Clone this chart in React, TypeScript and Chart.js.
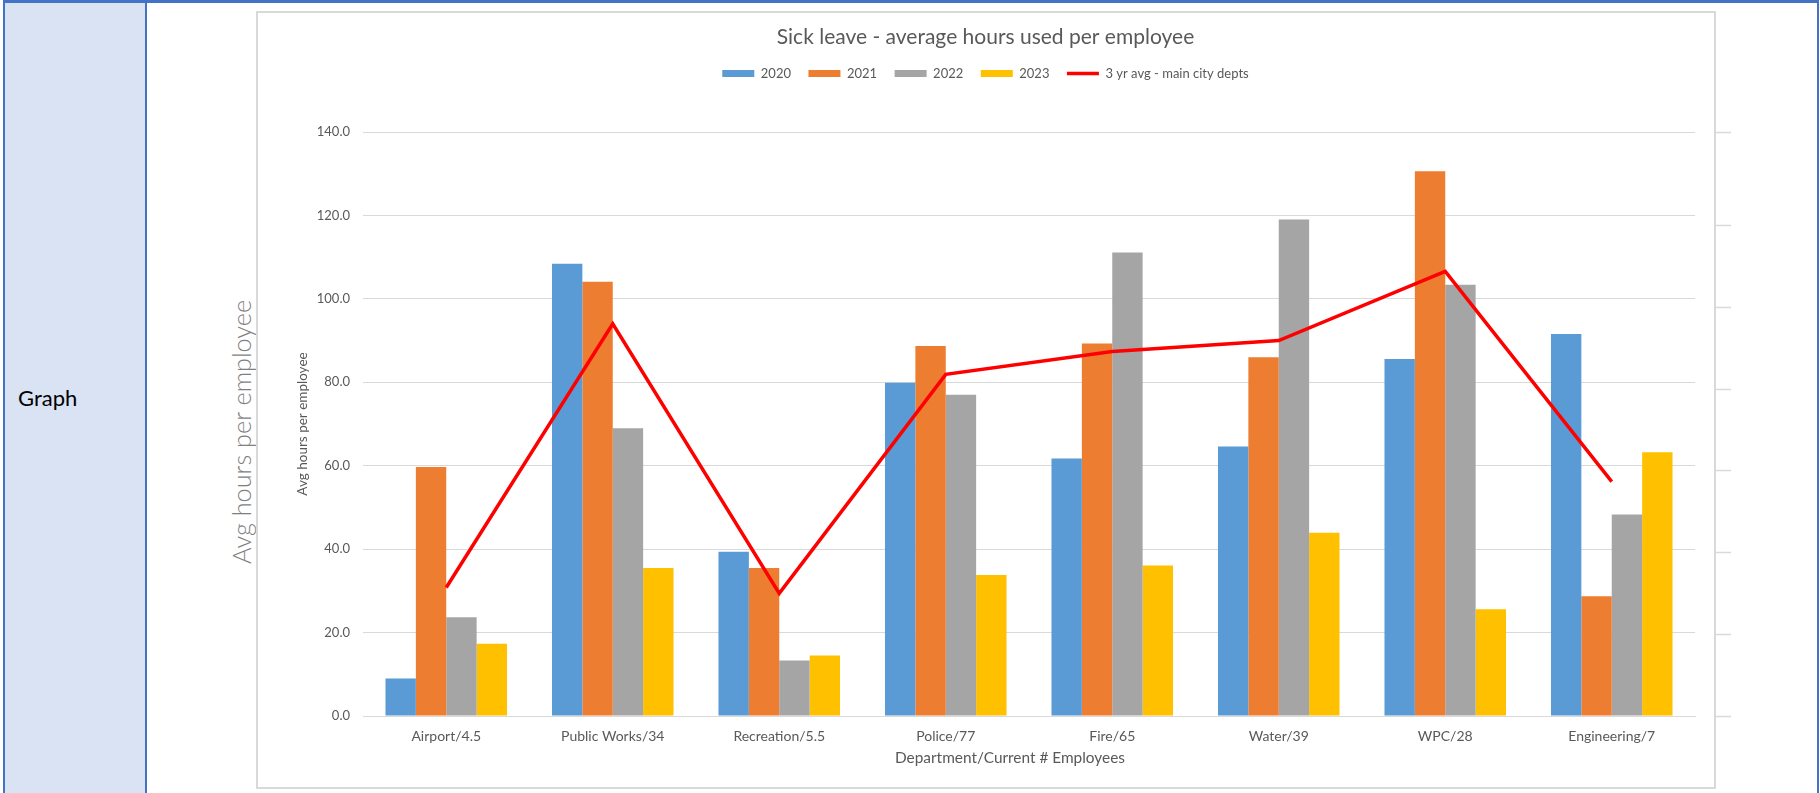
import React, { useEffect, useRef } from 'react';
import { Chart, registerables } from 'chart.js';

Chart.register(...registerables);

const categories = [
  'Airport/4.5',
  'Public Works/34',
  'Recreation/5.5',
  'Police/77',
  'Fire/65',
  'Water/39',
  'WPC/28',
  'Engineering/7',
];
const hours2020 = [9.0, 108.4, 39.4, 79.9, 61.7, 64.6, 85.6, 91.6];
const hours2021 = [59.7, 104.1, 35.5, 88.7, 89.3, 86.0, 130.6, 28.7];
const hours2022 = [23.7, 69.0, 13.3, 77.0, 111.1, 119.0, 103.4, 48.3];
const hours2023 = [17.3, 35.5, 14.5, 33.8, 36.1, 43.9, 25.6, 63.2];
const threeYearAvg = [30.8, 94.0, 29.4, 81.9, 87.4, 90.0, 106.6, 56.2];

const seriesLabels = ['2020', '2021', '2022', '2023', '3 yr avg - main city depts'];
const yMin = 0;
const yMax = 140;
const yStep = 20;
const y2Max = 142.7;

const FONT = 'Lato, "Open Sans", sans-serif';
const TEXT = '#595959';
const GRID = '#D9D9D9';
const BLUE_BORDER = '#4472C4';

const rightTicks = {
  id: 'rightTicks',
  afterDraw(chart: any) {
    const s = chart.scales.y2;
    if (!s) return;
    const ctx = chart.ctx;
    const x0 = chart.chartArea.right + 21;
    ctx.save();
    ctx.strokeStyle = GRID;
    ctx.lineWidth = 1.5;
    s.ticks.forEach((t: any) => {
      const py = Math.round(s.getPixelForValue(t.value)) + 0.5;
      ctx.beginPath();
      ctx.moveTo(x0, py);
      ctx.lineTo(x0 + 15, py);
      ctx.stroke();
    });
    ctx.restore();
  },
};

export default function App() {
  const ref = useRef<HTMLCanvasElement | null>(null);

  useEffect(() => {
    document.body.style.margin = '0';
    if (!ref.current) return;
    const chart = new Chart(ref.current, {
      data: {
        labels: categories,
        datasets: [
          { type: 'bar', label: seriesLabels[0], data: hours2020, backgroundColor: '#5B9BD5', order: 1 },
          { type: 'bar', label: seriesLabels[1], data: hours2021, backgroundColor: '#ED7D31', order: 1 },
          { type: 'bar', label: seriesLabels[2], data: hours2022, backgroundColor: '#A5A5A5', order: 1 },
          { type: 'bar', label: seriesLabels[3], data: hours2023, backgroundColor: '#FFC000', order: 1 },
          {
            type: 'line',
            label: seriesLabels[4],
            data: threeYearAvg,
            borderColor: '#FF0000',
            backgroundColor: '#FF0000',
            borderWidth: 3.5,
            pointRadius: 0,
            tension: 0,
            fill: false,
            order: 0,
          },
        ],
      } as any,
      options: {
        responsive: false,
        animation: false,
        devicePixelRatio: 1,
        datasets: {
          bar: { categoryPercentage: 0.73, barPercentage: 1.0 },
        },
        layout: { padding: { left: 25, right: 25, top: 0, bottom: 0 } },
        plugins: {
          title: {
            display: true,
            text: 'Sick leave - average hours used per employee',
            color: TEXT,
            font: { family: FONT, size: 21, weight: 'normal' },
            padding: { top: 13.4, bottom: 0 },
          },
          subtitle: {
            display: true,
            text: ' ',
            weight: 500,
            font: { family: FONT, size: 10 },
            padding: { top: 14.95, bottom: 14.95 },
          },
          legend: {
            position: 'top',
            labels: {
              usePointStyle: true,
              pointStyleWidth: 32,
              boxHeight: 7,
              padding: 17.5,
              color: TEXT,
              font: { family: FONT, size: 13 },
              generateLabels: (c: any) =>
                (Chart.defaults.plugins.legend.labels as any)
                  .generateLabels(c)
                  .map((l: any) => ({
                    ...l,
                    pointStyle: c.data.datasets[l.datasetIndex].type === 'line' ? 'line' : 'rect',
                  }))
                  .sort((a: any, b: any) => a.datasetIndex - b.datasetIndex),
            },
          },
          tooltip: { enabled: false },
        },
        scales: {
          x: {
            grid: { display: false, drawTicks: false },
            border: { color: GRID, width: 1 },
            ticks: {
              color: TEXT,
              font: { family: FONT, size: 14 },
              padding: 12,
              maxRotation: 0,
              autoSkip: false,
            },
            title: { display: false },
            afterFit: (s: any) => {
              s.height = 72;
            },
          },
          y: {
            min: yMin,
            max: yMax,
            ticks: {
              stepSize: yStep,
              callback: (v: any) => Number(v).toFixed(1),
              padding: 13,
              color: TEXT,
              font: { family: FONT, size: 13 },
            },
            grid: { color: GRID, lineWidth: 1, drawTicks: false },
            border: { display: false },
            title: {
              display: true,
              text: 'Avg hours per employee',
              color: TEXT,
              font: { family: FONT, size: 13.5 },
              padding: { top: 38.9, bottom: 0 },
            },
            afterFit: (s: any) => {
              s.width = 107;
            },
          },
          y2: {
            display: true,
            position: 'right',
            min: yMin,
            max: y2Max,
            ticks: { stepSize: yStep, display: false },
            grid: { display: false, drawOnChartArea: false },
            border: { display: false },
            afterFit: (s: any) => {
              s.width = 20;
            },
          },
        },
      } as any,
      plugins: [rightTicks],
    });
    return () => chart.destroy();
  }, []);

  return (
    <div style={{ position: 'relative', width: 1820, height: 793, overflow: 'hidden', background: '#fff' }}>
      <div style={{ position: 'absolute', left: 5, top: 3, width: 140, height: 790, background: '#DAE3F3' }} />
      <div style={{ position: 'absolute', left: 3, top: 0, width: 1816, height: 3, background: BLUE_BORDER }} />
      <div style={{ position: 'absolute', left: 3, top: 0, width: 2, height: 793, background: BLUE_BORDER }} />
      <div style={{ position: 'absolute', left: 145, top: 0, width: 2, height: 793, background: BLUE_BORDER }} />
      <div style={{ position: 'absolute', left: 1817, top: 0, width: 2, height: 793, background: BLUE_BORDER }} />
      <div
        style={{
          position: 'absolute',
          left: 18,
          top: 384,
          fontFamily: FONT,
          fontSize: 22,
          lineHeight: '28px',
          color: '#000',
        }}
      >
        Graph
      </div>
      <div
        style={{
          position: 'absolute',
          left: 241,
          top: 432,
          transform: 'translate(-50%, -50%) rotate(-90deg)',
          whiteSpace: 'nowrap',
          fontFamily: FONT,
          fontWeight: 300,
          fontSize: 25.3,
          color: '#7F7F7F',
          lineHeight: '30px',
        }}
      >
        Avg hours per employee
      </div>
      <canvas
        ref={ref}
        width={1509}
        height={777}
        style={{ position: 'absolute', left: 231, top: 11, width: 1509, height: 777 }}
      />
      <div
        style={{
          position: 'absolute',
          left: 1010,
          top: 757,
          transform: 'translate(-50%, -50%)',
          whiteSpace: 'nowrap',
          fontFamily: FONT,
          fontSize: 15.4,
          color: TEXT,
          lineHeight: '18px',
        }}
      >
        Department/Current # Employees
      </div>
      <div
        style={{
          position: 'absolute',
          left: 256,
          top: 11,
          width: 1460,
          height: 778,
          border: '2px solid #D9D9D9',
          boxSizing: 'border-box',
          pointerEvents: 'none',
        }}
      />
    </div>
  );
}
